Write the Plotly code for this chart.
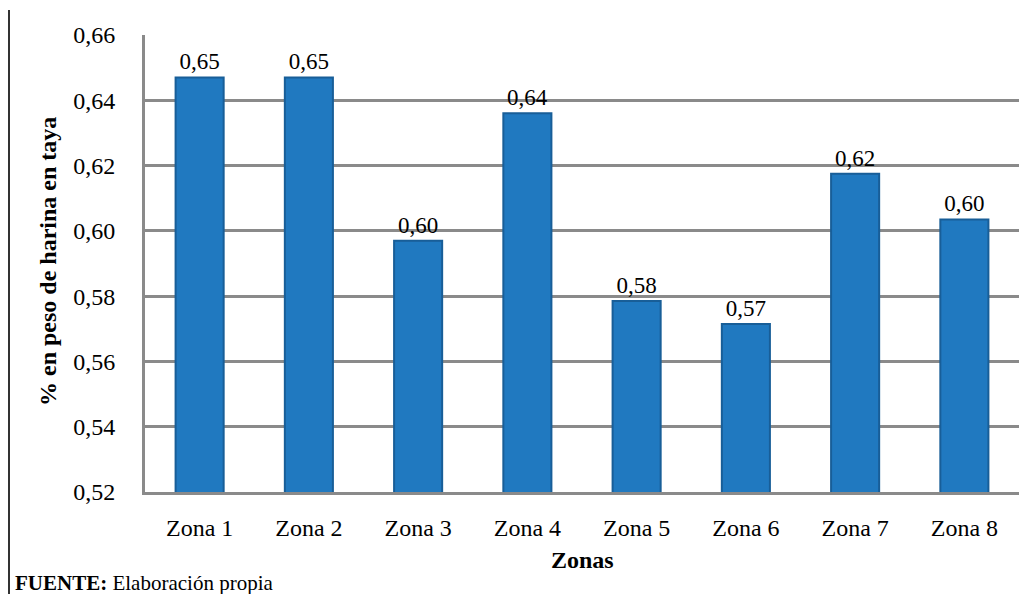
import plotly.graph_objects as go

zonas = ["Zona 1", "Zona 2", "Zona 3", "Zona 4", "Zona 5", "Zona 6", "Zona 7", "Zona 8"]
valores = [0.647, 0.647, 0.597, 0.636, 0.5785, 0.5715, 0.6175, 0.6035]
etiquetas = ["0,65", "0,65", "0,60", "0,64", "0,58", "0,57", "0,62", "0,60"]
y_ticks = [0.52, 0.54, 0.56, 0.58, 0.60, 0.62, 0.64, 0.66]
y_tick_labels = ["0,52", "0,54", "0,56", "0,58", "0,60", "0,62", "0,64", "0,66"]

W, H = 1027, 594
L, R, T, B = 145, 8, 35, 102
pw = W - L - R
ph = H - T - B

serif = "Liberation Serif"

fig = go.Figure(go.Bar(
    x=zonas, y=valores, text=etiquetas, textposition="outside",
    textfont=dict(family=serif, size=23, color="black"),
    marker=dict(color="#2079C0", line=dict(color="#185E98", width=2)),
    cliponaxis=False,
))

fig.update_layout(
    width=W, height=H,
    margin=dict(l=L, r=R, t=T, b=B),
    paper_bgcolor="white", plot_bgcolor="white",
    bargap=0.56,
    showlegend=False,
    font=dict(family=serif, color="black"),
    xaxis=dict(
        showgrid=False, showline=True, linecolor="#8a8a8a", linewidth=3,
        tickfont=dict(family=serif, size=24, color="black"),
        ticks="", ticklabelstandoff=12,
    ),
    yaxis=dict(
        range=[0.52, 0.66], tickvals=y_ticks, ticktext=y_tick_labels,
        showgrid=True, gridcolor="#8a8a8a", gridwidth=2.5,
        showline=True, linecolor="#8a8a8a", linewidth=3,
        zeroline=False, ticks="", ticklabelstandoff=22,
        tickfont=dict(family=serif, size=24, color="black"),
    ),
    annotations=[
        dict(text="<b>% en peso de harina en taya</b>", xref="paper", yref="paper",
             x=(48 - L) / pw, y=(H - B - 262) / ph, xanchor="center", yanchor="middle",
             textangle=-90, showarrow=False,
             font=dict(family=serif, size=24, color="black")),
        dict(text="<b>Zonas</b>", xref="paper", yref="paper",
             x=0.5, y=-(560 - (H - B)) / ph, xanchor="center", yanchor="middle",
             showarrow=False, font=dict(family=serif, size=24, color="black")),
        dict(text="<b>FUENTE:</b> Elaboración propia", xref="paper", yref="paper",
             x=(13 - L) / pw, y=-(583 - (H - B)) / ph, xanchor="left", yanchor="middle",
             showarrow=False, font=dict(family=serif, size=21, color="black")),
    ],
    shapes=[
        dict(type="line", xref="paper", yref="paper",
             x0=(9 - L) / pw, x1=(9 - L) / pw,
             y0=-(H - (H - B)) / ph, y1=1 + (T - 10) / ph,
             line=dict(color="#333333", width=2)),
    ],
)

fig.write_html("out.html")
